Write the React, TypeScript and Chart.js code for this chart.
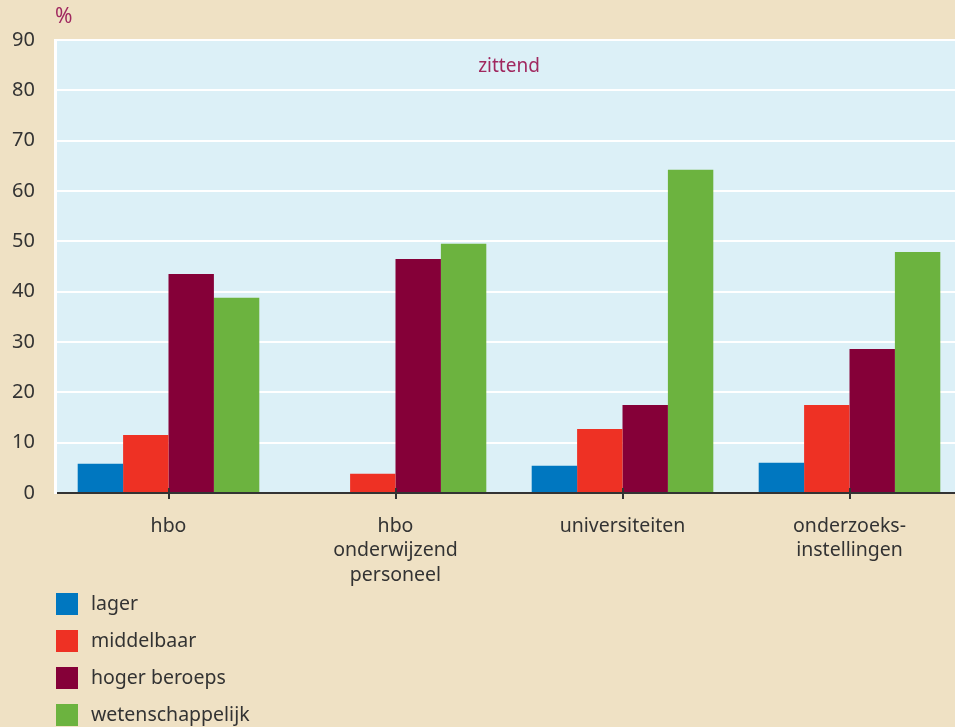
import React, { useEffect, useRef } from "react";
import { Chart, registerables } from "chart.js";

Chart.register(...registerables);

const categories: string[][] = [
  ["hbo"],
  ["hbo", "onderwijzend", "personeel"],
  ["universiteiten"],
  ["onderzoeks-", "instellingen"],
];
const seriesNames = ["lager", "middelbaar", "hoger beroeps", "wetenschappelijk"];
const lager = [5.8, 0, 5.4, 6.0];
const middelbaar = [11.5, 3.8, 12.7, 17.5];
const hogerBeroeps = [43.5, 46.5, 17.5, 28.6];
const wetenschappelijk = [38.8, 49.5, 64.2, 47.9];
const seriesColors = ["#0077c0", "#ee3124", "#850038", "#6cb33f"];
const yTicks = [0, 10, 20, 30, 40, 50, 60, 70, 80, 90];
const unitLabel = "%";
const panelLabel = "zittend";

const FONT = "'Noto Sans', sans-serif";
const BG = "#efe1c4";
const PLOT_BG = "#dcf0f7";
const ACCENT = "#a0285f";
const TEXT = "#333333";

export default function App() {
  const ref = useRef<HTMLCanvasElement | null>(null);

  useEffect(() => {
    if (!ref.current) return;
    const bgPlugin = {
      id: "bgPlugin",
      beforeDraw(chart: any) {
        const { ctx, chartArea } = chart;
        ctx.save();
        ctx.fillStyle = BG;
        ctx.fillRect(0, 0, chart.width, chart.height);
        ctx.fillStyle = PLOT_BG;
        ctx.fillRect(chartArea.left, chartArea.top, chartArea.right - chartArea.left, chartArea.bottom - chartArea.top);
        ctx.restore();
      },
      afterDraw(chart: any) {
        const { ctx, chartArea } = chart;
        ctx.save();
        // tick marks crossing the axis
        const xs = chart.scales.x;
        ctx.strokeStyle = TEXT;
        ctx.lineWidth = 2;
        categories.forEach((_, i) => {
          const px = Math.round(xs.getPixelForValue(i));
          ctx.beginPath();
          ctx.moveTo(px, chartArea.bottom - 5);
          ctx.lineTo(px, chartArea.bottom);
          ctx.stroke();
        });
        ctx.font = `21px ${FONT}`;
        ctx.fillStyle = ACCENT;
        ctx.textBaseline = "middle";
        ctx.textAlign = "left";
        ctx.fillText(unitLabel, 55, 17);
        ctx.font = `19px ${FONT}`;
        ctx.textAlign = "center";
        ctx.fillText(panelLabel, (chartArea.left + chartArea.right) / 2, 67);
        // legend
        ctx.textAlign = "left";
        ctx.font = `19.5px ${FONT}`;
        chart.data.datasets.forEach((ds: any, i: number) => {
          const y = 593 + 37 * i;
          ctx.fillStyle = ds.backgroundColor;
          ctx.fillRect(56, y, 22, 22);
          ctx.fillStyle = TEXT;
          ctx.fillText(ds.label, 91, y + 11);
        });
        ctx.restore();
      },
    };

    const chart = new Chart(ref.current, {
      type: "bar",
      data: {
        labels: categories,
        datasets: [lager, middelbaar, hogerBeroeps, wetenschappelijk].map((d, i) => ({
          label: seriesNames[i],
          data: d,
          backgroundColor: seriesColors[i],
          borderWidth: 0,
          categoryPercentage: 0.8,
          barPercentage: 1.0,
        })),
      },
      options: {
        responsive: false,
        animation: false,
        devicePixelRatio: 1,
        layout: { padding: { top: 40, bottom: 134, left: 0, right: 0 } },
        plugins: { legend: { display: false }, tooltip: { enabled: false } },
        scales: {
          x: {
            afterFit: (s: any) => { s.height = 100; },
            grid: {
              display: true,
              drawOnChartArea: false,
              drawTicks: true,
              tickLength: 6,
              offset: false,
              color: TEXT,
              lineWidth: 2,
            },
            border: { display: true, color: TEXT, width: 2 },
            ticks: {
              color: TEXT,
              font: { family: FONT, size: 19.5, lineHeight: "24.5px" },
              padding: 15,
              maxRotation: 0,
            },
          },
          y: {
            min: 0,
            max: 90,
            afterFit: (s: any) => { s.width = 55; },
            afterBuildTicks: (s: any) => { s.ticks = yTicks.map((v) => ({ value: v })); },
            grid: {
              drawTicks: false,
              color: (c: any) => (c.tick && c.tick.value === 0 ? "rgba(0,0,0,0)" : "#ffffff"),
              lineWidth: 2,
            },
            border: { display: true, color: "#ffffff", width: 3 },
            ticks: {
              color: TEXT,
              font: { family: FONT, size: 20 },
              padding: 20,
            },
          },
        },
      },
      plugins: [bgPlugin],
    });
    return () => chart.destroy();
  }, []);

  return (
    <div style={{ position: "fixed", left: 0, top: 0, width: 955, height: 727, overflow: "hidden", background: BG }}>
      <canvas ref={ref} width={963} height={727} style={{ width: 963, height: 727, display: "block" }} />
    </div>
  );
}
